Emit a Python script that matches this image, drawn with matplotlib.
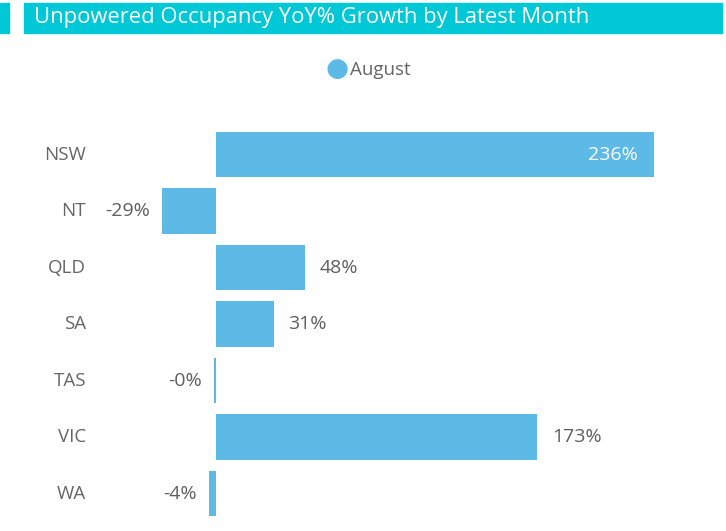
import matplotlib.pyplot as plt
from matplotlib.patches import Rectangle

states = ['NSW', 'NT', 'QLD', 'SA', 'TAS', 'VIC', 'WA']
growth = [236, -29, 48, 31, -1.2, 173, -4]
labels = ['236%', '-29%', '48%', '31%', '-0%', '173%', '-4%']

bar_color = '#5DB9E5'
text_gray = '#666666'
band_color = '#00C8D7'

W, H = 726, 531
fig = plt.figure(figsize=(W / 100, H / 100), dpi=100)
plt.rcParams['font.family'] = ['Open Sans', 'DejaVu Sans']

# title band
fig.patches.append(Rectangle((24 / W, 1 - 33 / H), 698 / W, 30 / H,
                             transform=fig.transFigure, color=band_color, zorder=0))
fig.patches.append(Rectangle((0, 1 - 33 / H), 9 / W, 30 / H,
                             transform=fig.transFigure, color=band_color, zorder=0))
fig.text(34 / W, 1 - 18 / H, 'Unpowered Occupancy YoY% Growth by Latest Month',
         color='white', fontsize=15.8, va='center', ha='left')

# legend
fig.text(337 / W, 1 - 69 / H, '\u25CF', color=bar_color, fontsize=19,
         va='center', ha='center', family='DejaVu Sans')
fig.text(350 / W, 1 - 70 / H, 'August', color=text_gray, fontsize=13.5,
         va='center', ha='left')

# plot area
left, right, top, bottom = 100, 716, 126.25, 521.75
ax = fig.add_axes([left / W, 1 - bottom / H, (right - left) / W, (bottom - top) / H])
px_per = (654 - 216) / 236
ax.set_xlim(-(216 - left) / px_per, (right - 216) / px_per)
ax.set_ylim(len(states) - 0.5, -0.5)
ax.barh(range(len(states)), growth, height=0.8, color=bar_color)
ax.axis('off')

val_font = dict(fontsize=14, weight='normal')
for i, (s, v, lab) in enumerate(zip(states, growth, labels)):
    ax.text(-(216 - 86) / px_per, i, s, ha='right', va='center',
            color=text_gray, fontsize=13.5)
    if v > 200:
        ax.text(v - 16 / px_per, i, lab, ha='right', va='center',
                color='white', **val_font)
    elif v >= 0:
        ax.text(v + 15 / px_per, i, lab, ha='left', va='center',
                color='#5f5f5f', **val_font)
    else:
        ax.text(v - 12 / px_per, i, lab, ha='right', va='center',
                color='#5f5f5f', **val_font)

fig.savefig('out.png', dpi=100)
